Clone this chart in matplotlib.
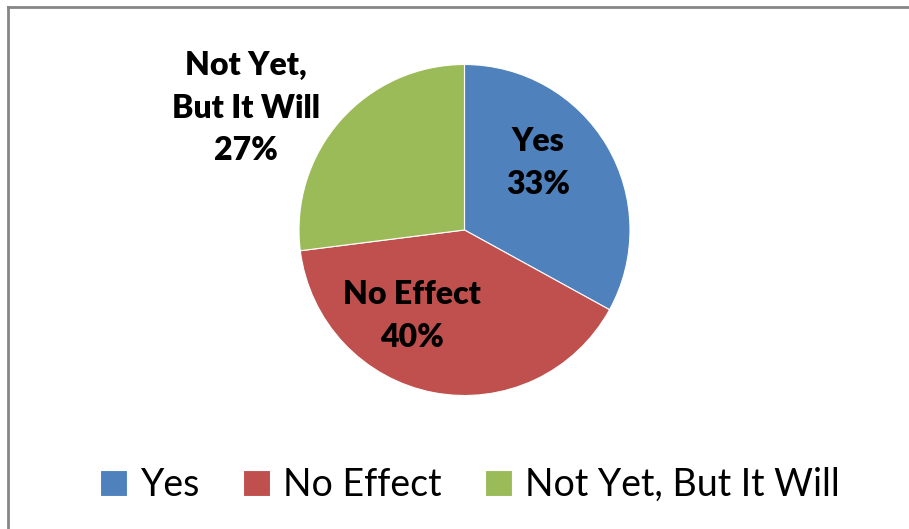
import matplotlib.pyplot as plt

labels = ["Yes", "No Effect", "Not Yet, But It Will"]
values = [33, 40, 27]
colors = ["#4f81bd", "#c0504d", "#9bbb59"]
slice_text = ["Yes\n33%", "No Effect\n40%", "Not Yet,\nBut It Will\n27%"]

W, H = 909, 529
fig = plt.figure(figsize=(W / 100, H / 100), dpi=100)
plt.rcParams['font.family'] = ['Lato', 'DejaVu Sans']

# chart area border (left and top visible)
fig.add_artist(plt.Line2D([8 / W, 8 / W], [0, 1 - 7 / H], color="#868686", lw=2, transform=fig.transFigure))
fig.add_artist(plt.Line2D([8 / W, 1], [1 - 7 / H, 1 - 7 / H], color="#868686", lw=2, transform=fig.transFigure))

cx, cy, r = 464.5, 230, 165.5
ax = fig.add_axes([(cx - r) / W, (H - cy - r) / H, 2 * r / W, 2 * r / H])
wedges, _ = ax.pie(values, colors=colors, startangle=90, counterclock=False, radius=1,
                   wedgeprops=dict(edgecolor="white", linewidth=0.8))
ax.set_xlim(-1, 1)
ax.set_ylim(-1, 1)
ax.set_aspect("equal")
ax.axis("off")

# data labels in pixel positions
pos = [(538, 163), (412, 316), (246, 108)]
for (x, y), t in zip(pos, slice_text):
    fig.text(x / W, 1 - y / H, t, ha="center", va="center", fontsize=23,
             fontweight="heavy", linespacing=1.55)

leg = fig.legend(wedges, labels, loc="center", bbox_to_anchor=(470 / W, 1 - 485 / H),
                 ncol=3, frameon=False, fontsize=27, handlelength=0.72, handleheight=0.72,
                 handletextpad=0.35, columnspacing=1.15)

fig.savefig("out.png", dpi=100)
